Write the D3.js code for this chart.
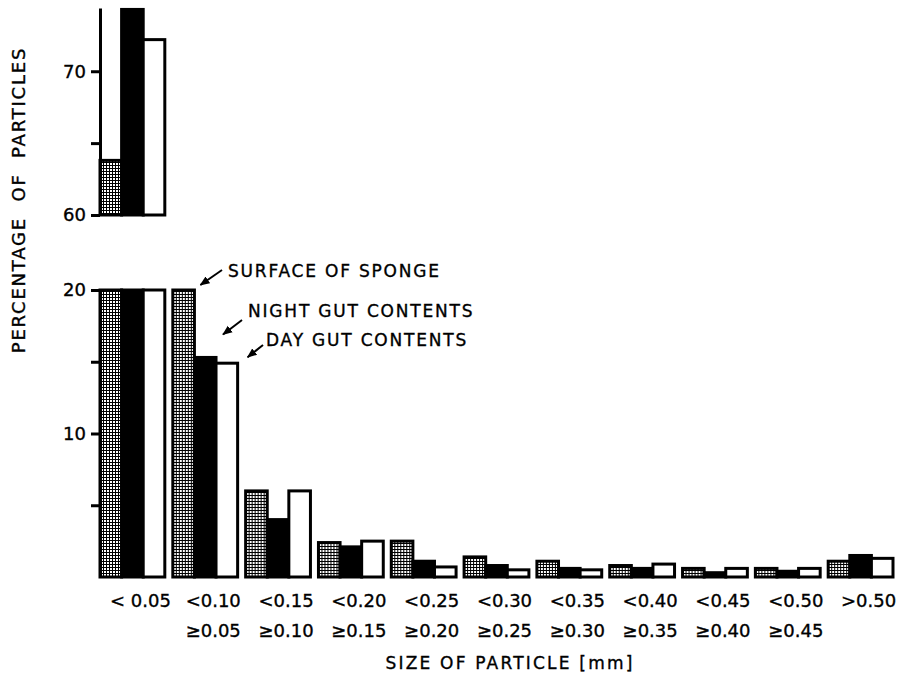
<!DOCTYPE html>
<html>
<head>
<meta charset="utf-8">
<script src="https://cdn.jsdelivr.net/npm/d3@7"></script>
<style>
  body { margin: 0; background: #fff; }
  svg { display: block; }
  text { stroke: #000; stroke-width: 0.35px; }
</style>
</head>
<body>
<svg id="chart" width="900" height="675"></svg>
<script>
// Particle size classes (two-line labels under each group)
const sizeUpper = ["< 0.05", "<0.10", "<0.15", "<0.20", "<0.25", "<0.30", "<0.35", "<0.40", "<0.45", "<0.50", ">0.50"];
const sizeLower = ["", "≥0.05", "≥0.10", "≥0.15", "≥0.20", "≥0.25", "≥0.30", "≥0.35", "≥0.40", "≥0.45", ""];

// Percentage of particles in each size class
const surface = [63.8, 20.0, 6.0, 2.4, 2.5, 1.4, 1.1, 0.8, 0.6, 0.6, 1.1];
const night   = [74.3, 15.3, 4.0, 2.1, 1.1, 0.8, 0.6, 0.6, 0.3, 0.4, 1.5];
const day     = [72.2, 14.9, 6.0, 2.5, 0.7, 0.5, 0.5, 0.9, 0.6, 0.6, 1.3];

const seriesKeys = ["surface", "night", "day"];
const seriesLabels = ["SURFACE OF SPONGE", "NIGHT GUT CONTENTS", "DAY GUT CONTENTS"];

// Broken axis: lower segment 0–20, upper segment 60–top
const lowerTicks = [5, 10, 15, 20];
const upperTicks = [60, 65, 70];
const labelledTicks = [10, 20, 60, 70];

const FONT = "'DejaVu Sans', sans-serif";
const svg = d3.select("#chart");

// Dot-screen fill for the sponge surface bars
const defs = svg.append("defs");
const pat = defs.append("pattern")
  .attr("id", "screen")
  .attr("patternUnits", "userSpaceOnUse")
  .attr("width", 3).attr("height", 3);
pat.append("rect").attr("width", 3).attr("height", 3).attr("fill", "#000");
pat.append("rect").attr("x", 1).attr("y", 1).attr("width", 2).attr("height", 2).attr("fill", "#fff");

const fills = { surface: "url(#screen)", night: "#000", day: "#fff" };

const x = d3.scaleBand()
  .domain(d3.range(sizeUpper.length))
  .range([100, 893])
  .paddingInner(0.11)
  .paddingOuter(0);

const xs = d3.scaleBand()
  .domain(seriesKeys)
  .range([0, x.bandwidth()]);

const yLow = d3.scaleLinear().domain([0, 20]).range([577, 290]);
const yHigh = d3.scaleLinear().domain([60, 74.4]).range([215, 8]);

const rows = d3.range(sizeUpper.length).map(i => ({
  i,
  values: [
    { key: "surface", v: surface[i] },
    { key: "night", v: night[i] },
    { key: "day", v: day[i] }
  ]
}));

// Lower segment bars (values above 20 are cut at the break)
const gLow = svg.append("g");
gLow.selectAll("g.grp").data(rows).join("g")
  .attr("class", "grp")
  .attr("transform", d => `translate(${x(d.i)},0)`)
  .selectAll("rect").data(d => d.values).join("rect")
  .attr("x", d => xs(d.key))
  .attr("width", xs.bandwidth())
  .attr("y", d => yLow(Math.min(d.v, 20)))
  .attr("height", d => yLow(0) - yLow(Math.min(d.v, 20)))
  .attr("fill", d => fills[d.key])
  .attr("stroke", "#000")
  .attr("stroke-width", 3);

// Upper segment bars (only values beyond the break)
const gHigh = svg.append("g");
gHigh.selectAll("g.grp").data(rows.filter(r => r.values.some(d => d.v > 60))).join("g")
  .attr("class", "grp")
  .attr("transform", d => `translate(${x(d.i)},0)`)
  .selectAll("rect").data(d => d.values).join("rect")
  .attr("x", d => xs(d.key))
  .attr("width", xs.bandwidth())
  .attr("y", d => yHigh(d.v))
  .attr("height", d => yHigh(60) - yHigh(d.v))
  .attr("fill", d => fills[d.key])
  .attr("stroke", "#000")
  .attr("stroke-width", 3);

// Axes
function styleAxis(g) {
  g.selectAll("path.domain").attr("stroke", "#000").attr("stroke-width", 3);
  g.selectAll(".tick line").attr("stroke", "#000").attr("stroke-width", 3);
  g.selectAll(".tick text")
    .attr("fill", "#000")
    .attr("font-family", FONT)
    .attr("font-size", 18);
}
const fmt = d => labelledTicks.includes(d) ? d : "";

svg.append("g")
  .attr("transform", "translate(100,0)")
  .call(d3.axisLeft(yLow).tickValues(lowerTicks).tickFormat(fmt).tickSize(9).tickSizeOuter(0).tickPadding(5))
  .call(styleAxis);

svg.append("g")
  .attr("transform", "translate(100,0)")
  .call(d3.axisLeft(yHigh).tickValues(upperTicks).tickFormat(fmt).tickSize(9).tickSizeOuter(0).tickPadding(5))
  .call(styleAxis);

// Size class labels
const labelOffset = 8;
svg.append("g").selectAll("text").data(sizeUpper).join("text")
  .attr("x", (d, i) => x(i) + x.bandwidth() / 2 + labelOffset)
  .attr("y", 607)
  .attr("text-anchor", "middle")
  .attr("font-family", FONT).attr("font-size", 18)
  .text(d => d);

svg.append("g").selectAll("text").data(sizeLower).join("text")
  .attr("x", (d, i) => x(i) + x.bandwidth() / 2 + labelOffset)
  .attr("y", 637)
  .attr("text-anchor", "middle")
  .attr("font-family", FONT).attr("font-size", 18)
  .text(d => d);

// Axis titles
svg.append("text")
  .attr("x", 510).attr("y", 669)
  .attr("text-anchor", "middle")
  .attr("font-family", FONT).attr("font-size", 17)
  .attr("letter-spacing", 2.2)
  .text("SIZE OF PARTICLE [mm]");

svg.append("text")
  .attr("transform", "translate(25,200) rotate(-90)")
  .attr("text-anchor", "middle")
  .attr("font-family", FONT).attr("font-size", 18)
  .attr("letter-spacing", 1.8)
  .attr("word-spacing", 8)
  .text("PERCENTAGE OF PARTICLES");

// Series callouts with arrows pointing at the second size class
const callouts = [
  { key: "surface", text: seriesLabels[0], tx: 228, ty: 277, tail: [222, 270], dx: 6, dy: -5 },
  { key: "night",   text: seriesLabels[1], tx: 248, ty: 317, tail: [242, 320], dx: 7, dy: -23 },
  { key: "day",     text: seriesLabels[2], tx: 266, ty: 346, tail: [263, 345], dx: 10, dy: -6 }
];
const valuesByKey = { surface, night, day };

defs.append("marker")
  .attr("id", "arrowhead")
  .attr("viewBox", "0 0 10 10")
  .attr("refX", 9).attr("refY", 5)
  .attr("markerWidth", 5).attr("markerHeight", 5)
  .attr("markerUnits", "strokeWidth")
  .attr("orient", "auto")
  .append("path").attr("d", "M0,1 L10,5 L0,9 Z").attr("fill", "#000");

const cg = svg.append("g");
callouts.forEach(c => {
  const tipX = x(1) + xs(c.key) + xs.bandwidth() + c.dx;
  const tipY = yLow(Math.min(valuesByKey[c.key][1], 20)) + c.dy;
  cg.append("line")
    .attr("x1", c.tail[0]).attr("y1", c.tail[1])
    .attr("x2", tipX).attr("y2", tipY)
    .attr("stroke", "#000").attr("stroke-width", 2)
    .attr("marker-end", "url(#arrowhead)");
  cg.append("text")
    .attr("x", c.tx).attr("y", c.ty)
    .attr("font-family", FONT).attr("font-size", 17)
    .attr("letter-spacing", 1.8)
    .text(c.text);
});
</script>
</body>
</html>
